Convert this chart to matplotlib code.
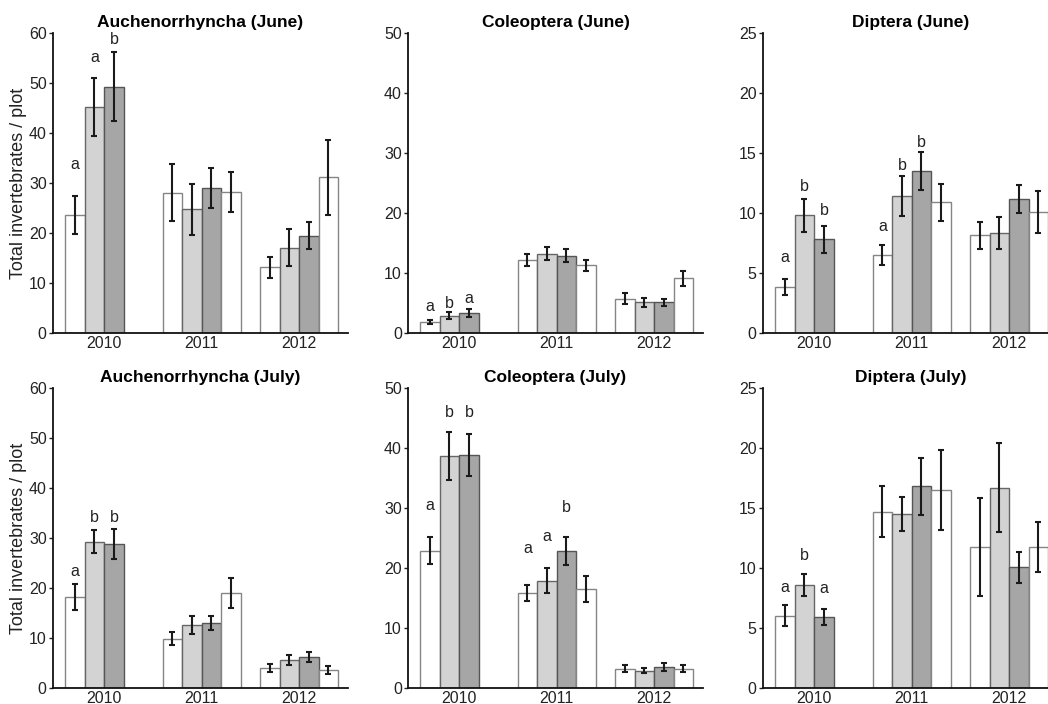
import numpy as np
import matplotlib
matplotlib.use('Agg')
import matplotlib.pyplot as plt

plt.rcParams['font.family'] = ['Liberation Sans', 'DejaVu Sans']

years = ['2010', '2011', '2012']

titles = ['Auchenorrhyncha (June)', 'Coleoptera (June)', 'Diptera (June)',
          'Auchenorrhyncha (July)', 'Coleoptera (July)', 'Diptera (July)']
ymax = [60, 50, 25, 60, 50, 25]
ystep = [10, 10, 5, 10, 10, 5]

# means per year: 2010 has 3 treatments, 2011/2012 have 4
auch_june = [[23.6, 45.3, 49.3], [28.1, 24.8, 29.0, 28.3], [13.2, 17.1, 19.5, 31.2]]
auch_june_se = [[3.8, 5.8, 6.9], [5.7, 5.1, 4.0, 4.0], [2.1, 3.7, 2.65, 7.5]]
cole_june = [[1.85, 2.9, 3.3], [12.2, 13.2, 12.9, 11.3], [5.7, 5.1, 5.1, 9.1]]
cole_june_se = [[0.3, 0.55, 0.65], [1.05, 1.1, 1.05, 0.9], [0.9, 0.75, 0.55, 1.25]]
dipt_june = [[3.83, 9.8, 7.8], [6.5, 11.4, 13.5, 10.9], [8.14, 8.33, 11.17, 10.06]]
dipt_june_se = [[0.65, 1.4, 1.1], [0.86, 1.65, 1.55, 1.55], [1.15, 1.3, 1.2, 1.75]]
auch_july = [[18.2, 29.3, 28.8], [9.9, 12.6, 13.1, 19.0], [4.0, 5.6, 6.2, 3.6]]
auch_july_se = [[2.6, 2.3, 3.0], [1.3, 1.8, 1.4, 3.0], [0.75, 1.05, 1.0, 0.8]]
cole_july = [[22.9, 38.7, 38.9], [15.9, 17.9, 22.8, 16.5], [3.2, 2.9, 3.5, 3.2]]
cole_july_se = [[2.3, 4.0, 3.5], [1.35, 2.1, 2.3, 2.1], [0.6, 0.45, 0.65, 0.6]]
dipt_july = [[6.03, 8.6, 5.9], [14.7, 14.5, 16.8, 16.5], [11.75, 16.7, 10.05, 11.75]]
dipt_july_se = [[0.85, 0.9, 0.65], [2.15, 1.45, 2.35, 3.3], [4.1, 3.7, 1.3, 2.05]]

# significance letters: (year index, bar index, letter, height)
letters_auch_june = [(0, 0, 'a', 33.7), (0, 1, 'a', 55.0), (0, 2, 'b', 58.8)]
letters_cole_june = [(0, 0, 'a', 4.4), (0, 1, 'b', 5.0), (0, 2, 'a', 5.7)]
letters_dipt_june = [(0, 0, 'a', 6.3), (0, 1, 'b', 12.2), (0, 2, 'b', 10.2),
                     (1, 0, 'a', 8.9), (1, 1, 'b', 14.0), (1, 2, 'b', 15.9)]
letters_auch_july = [(0, 0, 'a', 23.2), (0, 1, 'b', 34.0), (0, 2, 'b', 34.0)]
letters_cole_july = [(0, 0, 'a', 30.4), (0, 1, 'b', 45.9), (0, 2, 'b', 45.9),
                     (1, 0, 'a', 23.2), (1, 1, 'a', 25.3), (1, 2, 'b', 30.1)]
letters_dipt_july = [(0, 0, 'a', 8.4), (0, 1, 'b', 11.0), (0, 2, 'a', 8.3)]

panels = [
    (auch_june, auch_june_se, letters_auch_june),
    (cole_june, cole_june_se, letters_cole_june),
    (dipt_june, dipt_june_se, letters_dipt_june),
    (auch_july, auch_july_se, letters_auch_july),
    (cole_july, cole_july_se, letters_cole_july),
    (dipt_july, dipt_july_se, letters_dipt_july),
]

fills = ['white', '#d3d3d3', '#a6a6a6', 'white']
edges = ['#858585', '#666666', '#555555', '#858585']

W, H = 1048, 704
fig = plt.figure(figsize=(W / 100, H / 100), dpi=100)

lefts = [53, 408, 763]
tops = [33, 388]
aw, ah = 295, 300

for k, (means, ses, lets) in enumerate(panels):
    r, c = divmod(k, 3)
    ax = fig.add_axes([lefts[c] / W, 1 - (tops[r] + ah) / H, aw / W, ah / H])
    for g, (m, s) in enumerate(zip(means, ses)):
        x = g * 5 + np.arange(len(m))
        for i in range(len(m)):
            ax.bar(x[i], m[i], width=1.0, color=fills[i], edgecolor=edges[i],
                   linewidth=1.0, zorder=2)
        ax.errorbar(x, m, yerr=s, fmt='none', ecolor='#1a1a1a', elinewidth=1.5,
                    capsize=2.5, capthick=1.5, zorder=3)
    for g, i, lab, yy in lets:
        ax.text(g * 5 + i, yy, lab, ha='center', va='center', fontsize=11.5,
                color='#222222')
    ax.set_xlim(-1.12, 14.0)
    ax.set_ylim(0, ymax[k])
    ax.set_yticks(np.arange(0, ymax[k] + 1, ystep[k]))
    ax.set_xticks([g * 5 + 1.5 for g in range(3)])
    ax.set_xticklabels(years)
    ax.tick_params(axis='x', length=0, labelsize=11.5, pad=2, colors='#222222')
    ax.tick_params(axis='y', length=3, width=1, labelsize=11.5, pad=1.5,
                   colors='#222222')
    for sp in ['top', 'right']:
        ax.spines[sp].set_visible(False)
    for sp in ['left', 'bottom']:
        ax.spines[sp].set_linewidth(1.3)
        ax.spines[sp].set_color('#111111')
    ax.set_title(titles[k], fontsize=12.5, fontweight='bold', pad=4)
    if c == 0:
        ax.set_ylabel('Total invertebrates / plot', fontsize=13, labelpad=1.5,
                      color='#222222')

fig.savefig('out.png', dpi=100)
